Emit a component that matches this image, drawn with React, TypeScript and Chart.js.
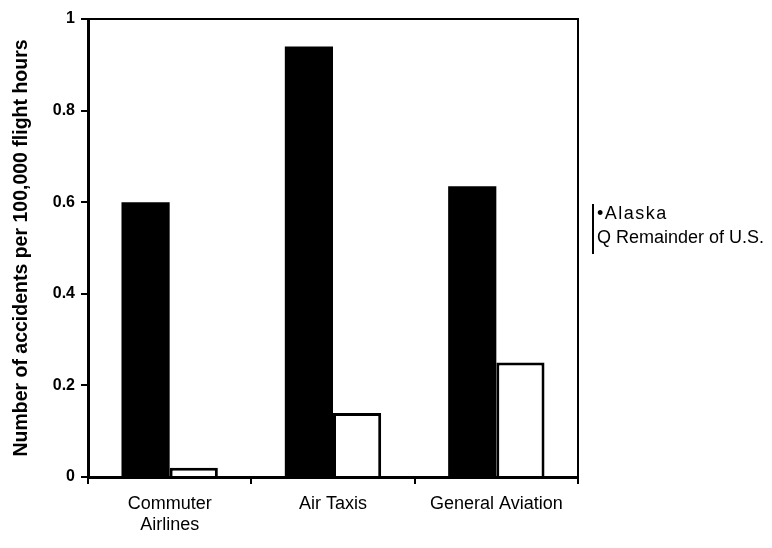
import React, { useEffect, useRef } from "react";
import { Chart, registerables } from "chart.js";

Chart.register(...registerables);

const categories: (string | string[])[] = [["Commuter", "Airlines"], "Air Taxis", "General Aviation"];
const alaskaValues = [0.6, 0.94, 0.635];
const remainderValues = [0.02, 0.14, 0.25];
const seriesNames = ["Alaska", "Remainder of U.S."];
const yTickValues = [0, 0.2, 0.4, 0.6, 0.8, 1];
const yTitle = "Number of accidents per 100,000 flight hours";

const W = 772;
const H = 548;
const PLOT_LEFT = 88;
const PLOT_RIGHT = 578;
const PLOT_TOP = 19;
const PLOT_BOTTOM = 477;

const framePlugin = {
  id: "frame",
  afterDatasetsDraw(chart: any) {
    const { ctx, chartArea } = chart;
    ctx.save();
    ctx.strokeStyle = "#000";
    ctx.lineWidth = 2;
    ctx.beginPath();
    ctx.moveTo(chartArea.left, chartArea.top);
    ctx.lineTo(chartArea.right, chartArea.top);
    ctx.lineTo(chartArea.right, chartArea.bottom);
    ctx.stroke();
    ctx.restore();
  },
};

export default function App() {
  const ref = useRef<HTMLCanvasElement | null>(null);
  useEffect(() => {
    if (!ref.current) return;
    const chart = new Chart(ref.current, {
      type: "bar",
      data: {
        labels: categories as any,
        datasets: [
          {
            label: seriesNames[0],
            data: alaskaValues,
            backgroundColor: "#000",
            borderColor: "#000",
            borderWidth: 0,
          },
          {
            label: seriesNames[1],
            data: remainderValues,
            backgroundColor: "#fff",
            borderColor: "#000",
            borderWidth: 3,
          },
        ],
      },
      options: {
        responsive: false,
        animation: false,
        layout: { padding: { top: PLOT_TOP, right: W - PLOT_RIGHT, left: 0, bottom: 0 } },
        datasets: { bar: { categoryPercentage: 0.59, barPercentage: 1.0 } },
        plugins: { legend: { display: false }, tooltip: { enabled: false } },
        scales: {
          x: {
            offset: true,
            grid: {
              display: true,
              offset: true,
              drawOnChartArea: false,
              drawTicks: true,
              tickLength: 7,
              color: "#000",
              lineWidth: 2,
            },
            border: { display: true, color: "#000", width: 3 },
            ticks: {
              color: "#000",
              padding: 9,
              font: { family: "'Liberation Sans', Arial, sans-serif", size: 18, lineHeight: 1.2 },
              maxRotation: 0,
              autoSkip: false,
            },
            afterFit(scale: any) {
              scale.height = H - PLOT_BOTTOM;
            },
          },
          y: {
            min: 0,
            max: 1,
            afterBuildTicks(scale: any) {
              scale.ticks = yTickValues.map((v) => ({ value: v }));
            },
            grid: {
              display: true,
              drawOnChartArea: false,
              drawTicks: true,
              tickLength: 7,
              color: "#000",
              lineWidth: 2,
            },
            border: { display: true, color: "#000", width: 3 },
            ticks: {
              color: "#000",
              padding: 6,
              font: { family: "'Liberation Sans', Arial, sans-serif", size: 16, weight: "bold" },
              callback: (v: any) => String(Number(v)),
            },
            title: {
              display: true,
              text: yTitle,
              color: "#000",
              padding: { top: 10, bottom: 0 },
              font: { family: "'Liberation Sans', Arial, sans-serif", size: 19.5, weight: "bold" },
            },
            afterFit(scale: any) {
              scale.width = PLOT_LEFT;
            },
          },
        },
      },
      plugins: [framePlugin],
    });
    return () => chart.destroy();
  }, []);

  const legendFont = "'Liberation Sans', Arial, sans-serif";
  return (
    <div style={{ position: "fixed", left: 0, top: 0, width: W, height: H, background: "#fff" }}>
      <canvas ref={ref} width={W} height={H} style={{ position: "absolute", left: 0, top: 0 }} />
      <div
        style={{
          position: "absolute",
          left: 592,
          top: 204,
          width: 0,
          height: 50,
          borderLeft: "2px solid #000",
        }}
      />
      <div
        style={{
          position: "absolute",
          left: 597,
          top: 202,
          fontFamily: legendFont,
          fontSize: 18,
          letterSpacing: "1.5px",
          color: "#000",
          whiteSpace: "nowrap",
          lineHeight: "22px",
        }}
      >
        {"\u2022" + seriesNames[0]}
      </div>
      <div
        style={{
          position: "absolute",
          left: 597,
          top: 226,
          fontFamily: legendFont,
          fontSize: 18,
          color: "#000",
          whiteSpace: "nowrap",
          lineHeight: "22px",
        }}
      >
        {"Q " + seriesNames[1]}
      </div>
    </div>
  );
}
